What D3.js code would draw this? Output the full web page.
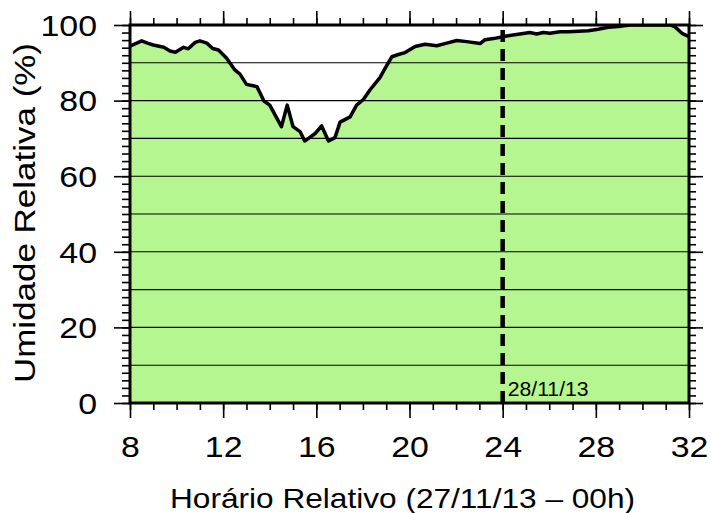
<!DOCTYPE html>
<html>
<head>
<meta charset="utf-8">
<script src="https://cdn.jsdelivr.net/npm/d3@7"></script>
<style>
  html, body { margin: 0; padding: 0; background: #fff; }
  svg { display: block; }
  text { font-family: "Liberation Sans", Arial, Helvetica, sans-serif; fill: #000; }
</style>
</head>
<body>
<svg id="chart" width="711" height="513"></svg>
<script>
// ---- data ----
const hours = [8.0, 8.5, 8.75, 9.0, 9.45, 9.72, 9.95, 10.3, 10.5, 10.8, 11.0, 11.3, 11.55, 11.8,
  12.15, 12.5, 12.72, 13.0, 13.45, 13.75, 14.0, 14.5, 14.75, 15.0, 15.3, 15.5, 15.95, 16.23,
  16.52, 16.8, 17.02, 17.45, 17.73, 18.02, 18.3, 18.73, 18.95, 19.24, 19.52, 19.81, 20.24,
  20.67, 21.17, 21.6, 22.03, 22.46, 23.03, 23.24, 23.6, 24.17, 24.74, 25.17, 25.46, 25.74,
  26.03, 26.46, 26.82, 27.68, 28.1, 28.54, 29.1, 29.5, 31.2, 31.4, 31.7, 32.0];
const humidity = [94.4, 95.8, 95.2, 94.7, 94.1, 93.1, 92.8, 94.1, 93.7, 95.4, 95.8, 95.2, 93.8, 93.4,
  91.2, 88.1, 87.0, 84.3, 83.7, 79.9, 78.8, 73.1, 78.8, 73.1, 71.8, 69.3, 71.3, 73.3,
  69.3, 70.2, 74.3, 75.7, 78.8, 80.3, 82.8, 86.1, 88.5, 91.6, 92.2, 92.7, 94.3,
  94.9, 94.5, 95.2, 95.9, 95.6, 95.1, 96.1, 96.4, 97.1, 97.6, 98.0, 97.6, 98.0,
  97.8, 98.2, 98.2, 98.5, 98.9, 99.4, 99.7, 100, 100, 99.5, 97.8, 96.9];
const xMajorTicks = [8, 12, 16, 20, 24, 28, 32];
const yMajorTicks = [0, 20, 40, 60, 80, 100];
const gridValues = [10, 20, 30, 40, 50, 60, 70, 80, 90];
const dateMarkHour = 24;
const dateMarkLabel = "28/11/13";
const xTitle = "Horário Relativo (27/11/13 – 00h)";
const yTitle = "Umidade Relativa (%)";

// ---- layout ----
const L = 130, R = 689, T = 25, B = 403;
const svg = d3.select("#chart");
const x = d3.scaleLinear().domain([8, 32]).range([L, R]);
const y = d3.scaleLinear().domain([0, 100]).range([B, T]);
const data = hours.map((h, i) => ({h, v: humidity[i]}));

svg.append("clipPath").attr("id", "clip")
  .append("rect").attr("x", L).attr("y", T).attr("width", R - L).attr("height", B - T);

const plot = svg.append("g").attr("clip-path", "url(#clip)");

// area fill
plot.append("path").datum(data)
  .attr("fill", "#b6f690")
  .attr("d", d3.area().x(d => x(d.h)).y0(y(0)).y1(d => y(d.v)));

// grid lines
plot.selectAll("line.grid").data(gridValues).enter().append("line")
  .attr("x1", L).attr("x2", R)
  .attr("y1", d => y(d)).attr("y2", d => y(d))
  .attr("stroke", "#000").attr("stroke-width", 1.1);

// curve
plot.append("path").datum(data)
  .attr("fill", "none").attr("stroke", "#000").attr("stroke-width", 3.5)
  .attr("stroke-linejoin", "round").attr("stroke-linecap", "round")
  .attr("d", d3.line().x(d => x(d.h)).y(d => y(d.v)));

// dashed date line
svg.append("line")
  .attr("x1", x(dateMarkHour)).attr("x2", x(dateMarkHour))
  .attr("y1", y(0)).attr("y2", y(100))
  .attr("stroke", "#000").attr("stroke-width", 4.5)
  .attr("stroke-dasharray", "12,7");

svg.append("text")
  .attr("x", x(dateMarkHour) + 5).attr("y", 396)
  .attr("font-size", 20)
  .attr("textLength", 81).attr("lengthAdjust", "spacingAndGlyphs")
  .text(dateMarkLabel);

// ---- axes ----
const sx = 1.13;
const minorX = d3.range(8, 33, 1);
const minorY = d3.range(0, 101, 2);

function styleAxis(g) {
  g.select(".domain").remove();
  g.selectAll(".tick line").attr("stroke", "#000").attr("stroke-width", 1.6);
}

// bottom
svg.append("g").attr("transform", `translate(0,${B})`)
  .call(d3.axisBottom(x).tickValues(minorX).tickSize(7).tickFormat(""))
  .call(styleAxis);
const bx = svg.append("g").attr("transform", `translate(0,${B})`)
  .call(d3.axisBottom(x).tickValues(xMajorTicks).tickSize(15).tickFormat(d3.format("d")))
  .call(styleAxis);
bx.selectAll(".tick text")
  .attr("y", 54).attr("dy", 0)
  .attr("font-size", 30).attr("font-family", "Liberation Sans, Arial, sans-serif")
  .attr("transform", `scale(${sx},1)`);

// top
svg.append("g").attr("transform", `translate(0,${T})`)
  .call(d3.axisTop(x).tickValues(minorX).tickSize(7).tickFormat(""))
  .call(styleAxis);
svg.append("g").attr("transform", `translate(0,${T})`)
  .call(d3.axisTop(x).tickValues(xMajorTicks).tickSize(14).tickFormat(""))
  .call(styleAxis);

// left
svg.append("g").attr("transform", `translate(${L},0)`)
  .call(d3.axisLeft(y).tickValues(minorY).tickSize(8).tickFormat(""))
  .call(styleAxis);
const ly = svg.append("g").attr("transform", `translate(${L},0)`)
  .call(d3.axisLeft(y).tickValues(yMajorTicks).tickSize(16).tickFormat(d3.format("d")))
  .call(styleAxis);
ly.selectAll(".tick text")
  .attr("x", -33 / sx).attr("dy", "0.34em")
  .attr("font-size", 30).attr("font-family", "Liberation Sans, Arial, sans-serif")
  .attr("transform", `scale(${sx},1)`);

// right
svg.append("g").attr("transform", `translate(${R},0)`)
  .call(d3.axisRight(y).tickValues(minorY).tickSize(7).tickFormat(""))
  .call(styleAxis);
svg.append("g").attr("transform", `translate(${R},0)`)
  .call(d3.axisRight(y).tickValues(yMajorTicks).tickSize(14).tickFormat(""))
  .call(styleAxis);

// frame
svg.append("rect")
  .attr("x", L).attr("y", T).attr("width", R - L).attr("height", B - T)
  .attr("fill", "none").attr("stroke", "#000").attr("stroke-width", 3);

// titles
svg.append("text")
  .attr("x", 402.5).attr("y", 508)
  .attr("text-anchor", "middle").attr("font-size", 28)
  .attr("textLength", 465).attr("lengthAdjust", "spacingAndGlyphs")
  .text(xTitle);

svg.append("text")
  .attr("transform", `translate(35,213) rotate(-90)`)
  .attr("text-anchor", "middle").attr("font-size", 29)
  .attr("textLength", 340).attr("lengthAdjust", "spacingAndGlyphs")
  .text(yTitle);
</script>
</body>
</html>
